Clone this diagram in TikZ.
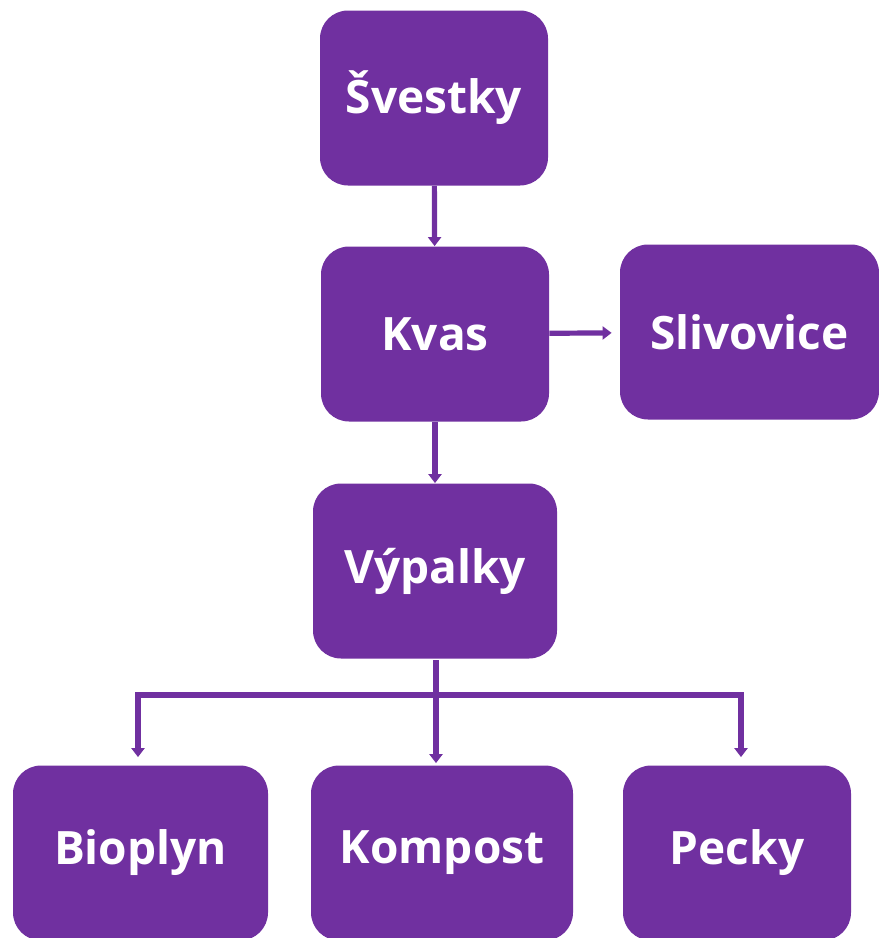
\documentclass[tikz,border=0pt]{standalone}
\usepackage{fontspec}
\setmainfont{Open Sans}
\usetikzlibrary{arrows.meta,positioning}
\definecolor{plumpurple}{HTML}{7030A0}

\begin{document}
\begin{tikzpicture}[x=0.5pt,y=-0.5pt,
  box/.style={fill=plumpurple,rounded corners=14pt,minimum height=87.5pt,
              inner sep=0pt,text=white,font=\fontsize{23}{28}\selectfont\bfseries},
  arrow/.style={-{Triangle[width=6.5pt,length=4.5pt]},line width=2.6pt,draw=plumpurple},
  branch/.style={line width=2.6pt,draw=plumpurple,line cap=rect}]
\useasboundingbox (0,0) rectangle (879,938);
\node[box,minimum width=114pt] (svestky) at (434,98) {Švestky};
\node[box,minimum width=114pt] (kvas) at (435,334) {Kvas};
\node[box,minimum width=129.5pt] (slivovice) at (749.5,332) {Slivovice};
\node[box,minimum width=122pt] (vypalky) at (435,571) {Výpalky};
\node[box,minimum width=127.5pt] (bioplyn) at (140.5,853) {Bioplyn};
\node[box,minimum width=131pt] (kompost) at (442,853) {Kompost};
\node[box,minimum width=114pt] (pecky) at (737,853) {Pecky};
\coordinate (split) at (436,695);
\coordinate (leftend) at (138,695);
\coordinate (rightend) at (741,695);
\draw[arrow] (svestky) -- (kvas);
\draw[arrow,shorten >=4pt] (kvas) -- (slivovice);
\draw[arrow] (kvas) -- (vypalky);
\draw[branch] ([yshift=-2pt]vypalky.south -| split) -- (split);
\draw[branch] (leftend) -- (rightend);
\draw[arrow,shorten >=4pt] (leftend) -- (leftend |- bioplyn.north);
\draw[arrow,shorten >=1pt] (split) -- (split |- kompost.north);
\draw[arrow,shorten >=4pt] (rightend) -- (rightend |- pecky.north);
\end{tikzpicture}
\end{document}
